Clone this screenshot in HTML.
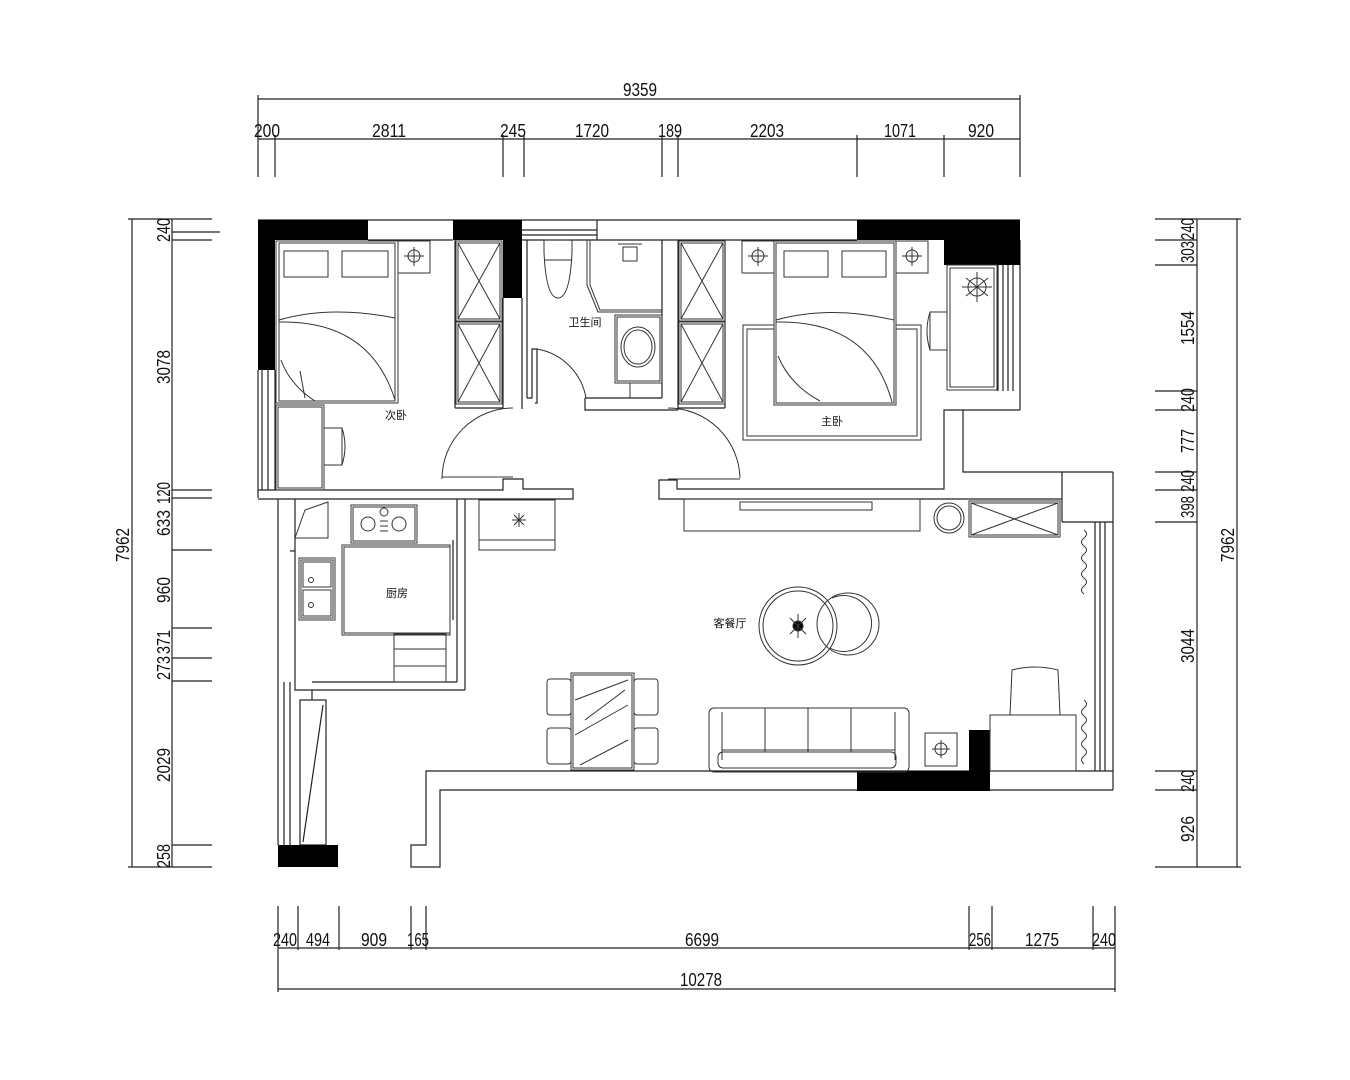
<!DOCTYPE html>
<html><head><meta charset="utf-8"><style>
html,body{margin:0;padding:0;background:#fff;width:1350px;height:1080px;overflow:hidden}
svg{display:block}
text{font-family:"Liberation Sans","Noto Sans CJK SC",sans-serif;fill:#111}
.l{stroke:#222;stroke-width:1.2;fill:none}
.t{stroke:#333;stroke-width:1;fill:none}
.f{fill:#000;stroke:none}
</style></head><body>
<svg width="1350" height="1080" viewBox="0 0 1350 1080" xmlns="http://www.w3.org/2000/svg">
<!-- TOP DIMENSIONS -->
<g class="l">
<line x1="258" y1="99" x2="1020" y2="99"/>
<line x1="258" y1="95" x2="258" y2="177"/><line x1="1020" y1="95" x2="1020" y2="177"/>
<line x1="258" y1="139" x2="1020" y2="139"/>
<line x1="275" y1="135" x2="275" y2="177"/><line x1="503" y1="135" x2="503" y2="177"/>
<line x1="524" y1="135" x2="524" y2="177"/><line x1="662" y1="135" x2="662" y2="177"/>
<line x1="678" y1="135" x2="678" y2="177"/><line x1="857" y1="135" x2="857" y2="177"/>
<line x1="944" y1="135" x2="944" y2="177"/>
</g>
<g text-anchor="middle" style="font-size:18px" lengthAdjust="spacingAndGlyphs">
<text x="640" y="96" textLength="34" lengthAdjust="spacingAndGlyphs">9359</text>
<text x="267" y="137" textLength="26" lengthAdjust="spacingAndGlyphs">200</text>
<text x="389" y="137" textLength="34" lengthAdjust="spacingAndGlyphs">2811</text>
<text x="513" y="137" textLength="26" lengthAdjust="spacingAndGlyphs">245</text>
<text x="592" y="137" textLength="34" lengthAdjust="spacingAndGlyphs">1720</text>
<text x="670" y="137" textLength="24" lengthAdjust="spacingAndGlyphs">189</text>
<text x="767" y="137" textLength="34" lengthAdjust="spacingAndGlyphs">2203</text>
<text x="900" y="137" textLength="32" lengthAdjust="spacingAndGlyphs">1071</text>
<text x="981" y="137" textLength="26" lengthAdjust="spacingAndGlyphs">920</text>
</g>
<!-- LEFT DIMENSIONS -->
<g class="l">
<line x1="132" y1="219" x2="132" y2="867"/>
<line x1="128" y1="219" x2="212" y2="219"/><line x1="128" y1="867" x2="212" y2="867"/>
<line x1="172" y1="219" x2="172" y2="867"/>
<line x1="172" y1="232" x2="220" y2="232"/><line x1="172" y1="240" x2="212" y2="240"/>
<line x1="172" y1="490" x2="212" y2="490"/><line x1="172" y1="498" x2="212" y2="498"/>
<line x1="172" y1="550" x2="212" y2="550"/><line x1="172" y1="628" x2="212" y2="628"/>
<line x1="172" y1="658" x2="212" y2="658"/><line x1="172" y1="681" x2="212" y2="681"/>
<line x1="172" y1="845" x2="212" y2="845"/>
</g>
<g text-anchor="middle" style="font-size:18px">
<text transform="translate(170,230) rotate(-90)" textLength="24" lengthAdjust="spacingAndGlyphs">240</text>
<text transform="translate(170,367) rotate(-90)" textLength="34" lengthAdjust="spacingAndGlyphs">3078</text>
<text transform="translate(170,493) rotate(-90)" textLength="22" lengthAdjust="spacingAndGlyphs">120</text>
<text transform="translate(170,523) rotate(-90)" textLength="26" lengthAdjust="spacingAndGlyphs">633</text>
<text transform="translate(170,590) rotate(-90)" textLength="26" lengthAdjust="spacingAndGlyphs">960</text>
<text transform="translate(170,642) rotate(-90)" textLength="24" lengthAdjust="spacingAndGlyphs">371</text>
<text transform="translate(170,668) rotate(-90)" textLength="24" lengthAdjust="spacingAndGlyphs">273</text>
<text transform="translate(170,765) rotate(-90)" textLength="34" lengthAdjust="spacingAndGlyphs">2029</text>
<text transform="translate(170,856) rotate(-90)" textLength="24" lengthAdjust="spacingAndGlyphs">258</text>
<text transform="translate(129,545) rotate(-90)" textLength="34" lengthAdjust="spacingAndGlyphs">7962</text>
</g>
<!-- RIGHT DIMENSIONS -->
<g class="l">
<line x1="1237" y1="219" x2="1237" y2="867"/>
<line x1="1197" y1="219" x2="1197" y2="867"/>
<line x1="1155" y1="219" x2="1241" y2="219"/><line x1="1155" y1="867" x2="1241" y2="867"/>
<line x1="1155" y1="240" x2="1197" y2="240"/><line x1="1155" y1="265" x2="1197" y2="265"/>
<line x1="1155" y1="391" x2="1197" y2="391"/><line x1="1155" y1="410" x2="1197" y2="410"/>
<line x1="1155" y1="472" x2="1197" y2="472"/><line x1="1155" y1="490" x2="1197" y2="490"/>
<line x1="1155" y1="522" x2="1197" y2="522"/><line x1="1155" y1="771" x2="1197" y2="771"/>
<line x1="1155" y1="790" x2="1197" y2="790"/>
</g>
<g text-anchor="middle" style="font-size:18px">
<text transform="translate(1194,229) rotate(-90)" textLength="22" lengthAdjust="spacingAndGlyphs">240</text>
<text transform="translate(1194,252) rotate(-90)" textLength="22" lengthAdjust="spacingAndGlyphs">303</text>
<text transform="translate(1194,328) rotate(-90)" textLength="34" lengthAdjust="spacingAndGlyphs">1554</text>
<text transform="translate(1194,400) rotate(-90)" textLength="24" lengthAdjust="spacingAndGlyphs">240</text>
<text transform="translate(1194,441) rotate(-90)" textLength="24" lengthAdjust="spacingAndGlyphs">777</text>
<text transform="translate(1194,481) rotate(-90)" textLength="22" lengthAdjust="spacingAndGlyphs">240</text>
<text transform="translate(1194,507) rotate(-90)" textLength="22" lengthAdjust="spacingAndGlyphs">398</text>
<text transform="translate(1194,646) rotate(-90)" textLength="34" lengthAdjust="spacingAndGlyphs">3044</text>
<text transform="translate(1194,781) rotate(-90)" textLength="22" lengthAdjust="spacingAndGlyphs">240</text>
<text transform="translate(1194,829) rotate(-90)" textLength="26" lengthAdjust="spacingAndGlyphs">926</text>
<text transform="translate(1234,545) rotate(-90)" textLength="34" lengthAdjust="spacingAndGlyphs">7962</text>
</g>
<!-- BOTTOM DIMENSIONS -->
<g class="l">
<line x1="278" y1="948" x2="1115" y2="948"/>
<line x1="278" y1="989" x2="1115" y2="989"/>
<line x1="278" y1="906" x2="278" y2="992"/><line x1="1115" y1="906" x2="1115" y2="992"/>
<line x1="298" y1="906" x2="298" y2="950"/><line x1="339" y1="906" x2="339" y2="950"/>
<line x1="411" y1="906" x2="411" y2="950"/><line x1="426" y1="906" x2="426" y2="950"/>
<line x1="969" y1="906" x2="969" y2="950"/><line x1="992" y1="906" x2="992" y2="950"/>
<line x1="1093" y1="906" x2="1093" y2="950"/>
</g>
<g text-anchor="middle" style="font-size:18px">
<text x="285" y="946" textLength="24" lengthAdjust="spacingAndGlyphs">240</text>
<text x="318" y="946" textLength="24" lengthAdjust="spacingAndGlyphs">494</text>
<text x="374" y="946" textLength="26" lengthAdjust="spacingAndGlyphs">909</text>
<text x="418" y="946" textLength="22" lengthAdjust="spacingAndGlyphs">165</text>
<text x="702" y="946" textLength="34" lengthAdjust="spacingAndGlyphs">6699</text>
<text x="980" y="946" textLength="22" lengthAdjust="spacingAndGlyphs">256</text>
<text x="1042" y="946" textLength="34" lengthAdjust="spacingAndGlyphs">1275</text>
<text x="1104" y="946" textLength="24" lengthAdjust="spacingAndGlyphs">240</text>
<text x="701" y="986" textLength="42" lengthAdjust="spacingAndGlyphs">10278</text>
</g>

<!-- WALLS -->
<g class="l">
<line x1="258" y1="220" x2="1020" y2="220"/>
<line x1="368" y1="240" x2="453" y2="240"/>
<line x1="522" y1="240" x2="857" y2="240"/>
<line x1="522" y1="230" x2="597" y2="230"/><line x1="522" y1="235" x2="597" y2="235"/><line x1="597" y1="220" x2="597" y2="240"/>
<line x1="258" y1="370" x2="258" y2="498"/>
<line x1="262" y1="370" x2="262" y2="490"/><line x1="268" y1="370" x2="268" y2="490"/>
<line x1="275" y1="370" x2="275" y2="490"/>
<polyline points="258,490 503,490 503,479 523,479 523,489 573,489 573,499 258,499"/>
<polyline points="1113,472 963,472 963,410 944,410 944,489 677,489 677,480 659,480 659,499 1062,499"/>
<line x1="1020" y1="240" x2="1020" y2="410"/><line x1="1020" y1="410" x2="963" y2="410"/>
<line x1="1062" y1="472" x2="1062" y2="522"/><line x1="1062" y1="522" x2="1113" y2="522"/>
<line x1="1113" y1="472" x2="1113" y2="790"/>
<line x1="1095" y1="522" x2="1095" y2="771"/><line x1="1100" y1="522" x2="1100" y2="771"/><line x1="1105" y1="522" x2="1105" y2="771"/>
<line x1="998" y1="265" x2="998" y2="391"/><line x1="1003" y1="265" x2="1003" y2="391"/><line x1="1008" y1="265" x2="1008" y2="391"/><line x1="1013" y1="265" x2="1013" y2="391"/>
<line x1="522" y1="298" x2="522" y2="409"/>
<line x1="527" y1="240" x2="527" y2="398"/>
<polyline points="527,398 532,398 532,349 537,349 537,403 535,403"/>
<polyline points="585,398 585,410 678,410"/>
<line x1="585" y1="398" x2="662" y2="398"/>
<line x1="662" y1="240" x2="662" y2="398"/><line x1="678" y1="240" x2="678" y2="410"/>
<line x1="455" y1="240" x2="455" y2="408"/><line x1="503" y1="298" x2="503" y2="408"/>
<line x1="455" y1="408" x2="503" y2="408"/>
<line x1="725" y1="240" x2="725" y2="408"/><line x1="678" y1="408" x2="725" y2="408"/>
<line x1="278" y1="499" x2="278" y2="845"/>
<line x1="295" y1="499" x2="295" y2="682"/>
<line x1="295" y1="551" x2="290" y2="551"/>
<polyline points="295,682 295,690 312,690 312,700"/>
<line x1="312" y1="690" x2="465" y2="690"/><line x1="312" y1="682" x2="457" y2="682"/>
<line x1="457" y1="499" x2="457" y2="682"/><line x1="465" y1="499" x2="465" y2="690"/>
<line x1="453" y1="540" x2="453" y2="620"/>
<line x1="284" y1="682" x2="284" y2="845"/><line x1="290" y1="682" x2="290" y2="845"/>
<rect x="300" y="700" width="26" height="145"/>
<line x1="323" y1="705" x2="303" y2="842"/>
<polyline points="1113,790 440,790 440,867 411,867 411,845 426,845 426,771 1113,771"/>
</g>
<rect class="f" x="258" y="220" width="110" height="20"/>
<rect class="f" x="258" y="220" width="17" height="150"/>
<rect class="f" x="453" y="220" width="69" height="20"/>
<rect class="f" x="503" y="220" width="19" height="78"/>
<rect class="f" x="857" y="220" width="163" height="20"/>
<rect class="f" x="944" y="220" width="76" height="45"/>
<rect class="f" x="278" y="845" width="60" height="22"/>
<rect class="f" x="857" y="771" width="133" height="20"/>
<rect class="f" x="969" y="730" width="21" height="61"/>

<g class="t">
<path d="M442,479 A71,71 0 0 1 513,408"/><line x1="442" y1="477" x2="513" y2="477"/>
<path d="M537,349 A60,60 0 0 1 586,398"/>
<path d="M668,408 A72,72 0 0 1 740,478"/><line x1="668" y1="479" x2="740" y2="479"/>
</g>

<g class="t">
<rect x="456" y="241" width="46" height="80"/><rect x="458" y="243" width="42" height="76"/>
<line x1="458" y1="243" x2="500" y2="319"/><line x1="500" y1="243" x2="458" y2="319"/>
<rect x="456" y="322" width="46" height="82"/><rect x="458" y="324" width="42" height="78"/>
<line x1="458" y1="324" x2="500" y2="402"/><line x1="500" y1="324" x2="458" y2="402"/>
<rect x="679" y="241" width="46" height="80"/><rect x="681" y="243" width="42" height="76"/>
<line x1="681" y1="243" x2="723" y2="319"/><line x1="723" y1="243" x2="681" y2="319"/>
<rect x="679" y="322" width="46" height="82"/><rect x="681" y="324" width="42" height="78"/>
<line x1="681" y1="324" x2="723" y2="402"/><line x1="723" y1="324" x2="681" y2="402"/>
</g>

<g class="t">
<rect x="276" y="241" width="122" height="162"/><rect x="279" y="243" width="116" height="158"/>
<path d="M284,251 L328,251 L328,277 L284,277 Z"/><path d="M342,251 L388,251 L388,277 L342,277 Z"/>
<path d="M279,320 Q330,305 395,318"/><path d="M279,322 Q370,320 395,400"/>
<path d="M281,360 Q290,385 315,401"/><path d="M300,371 L305,398"/>
<rect x="398" y="241" width="32" height="32"/><circle cx="414" cy="256" r="6"/>
<line x1="414" y1="247" x2="414" y2="266"/><line x1="404" y1="256" x2="424" y2="256"/>
<rect x="276" y="405" width="48" height="85"/><rect x="278" y="407" width="44" height="81"/>
<rect x="324" y="428" width="18" height="37"/><path d="M342,428 Q348,446 342,465"/>
</g>
<g class="t">
<rect x="743" y="325" width="178" height="115"/><rect x="747" y="329" width="170" height="107"/>
<rect x="774" y="241" width="122" height="164" fill="#fff"/><rect x="776" y="243" width="118" height="160"/>
<path d="M784,251 L828,251 L828,277 L784,277 Z"/><path d="M842,251 L886,251 L886,277 L842,277 Z"/>
<path d="M776,320 Q830,305 894,320"/><path d="M776,322 Q870,320 892,402"/>
<path d="M778,356 Q790,385 820,401"/>
<rect x="742" y="241" width="32" height="32"/><circle cx="758" cy="256" r="6"/>
<line x1="758" y1="247" x2="758" y2="266"/><line x1="748" y1="256" x2="768" y2="256"/>
<rect x="896" y="241" width="32" height="32"/><circle cx="912" cy="256" r="6"/>
<line x1="912" y1="247" x2="912" y2="266"/><line x1="902" y1="256" x2="922" y2="256"/>
<rect x="947" y="265" width="50" height="125"/><rect x="950" y="268" width="44" height="119"/>
<rect x="930" y="312" width="17" height="38"/><path d="M930,312 Q924,331 930,350"/>
<circle cx="977" cy="287" r="9"/><path d="M966,278 L988,296 M988,278 L966,296 M977,272 L977,302 M962,287 L992,287"/>
</g>
<g class="t">
<path d="M544,240 L572,240 L572,252 Q570,298 558,298 Q546,298 544,252 Z"/><line x1="544" y1="260" x2="572" y2="260"/>
<polyline points="587,240 587,285 598,312 662,312"/><polyline points="590,240 590,285 600,310 662,310"/>
<rect x="623" y="247" width="14" height="14"/><line x1="618" y1="244" x2="642" y2="244"/>
<rect x="615" y="315" width="47" height="68"/><rect x="617" y="317" width="43" height="64"/>
<ellipse cx="638" cy="347" rx="17" ry="20"/><ellipse cx="638" cy="347" rx="14" ry="17"/>
<line x1="630" y1="383" x2="630" y2="398"/>
</g>
<g class="t">
<rect x="351" y="505" width="66" height="38"/><rect x="353" y="507" width="62" height="34"/>
<circle cx="368" cy="524" r="7"/><circle cx="399" cy="524" r="7"/><circle cx="384" cy="512" r="4"/>
<line x1="380" y1="521" x2="388" y2="521"/><line x1="380" y1="526" x2="388" y2="526"/><line x1="380" y1="531" x2="388" y2="531"/>
<rect x="342" y="545" width="108" height="90"/><rect x="344" y="547" width="106" height="86"/>
<rect x="299" y="558" width="36" height="62"/><rect x="301" y="560" width="32" height="58"/>
<rect x="303" y="562" width="28" height="25"/><rect x="303" y="590" width="28" height="26"/>
<circle cx="311" cy="580" r="2.5"/><circle cx="311" cy="605" r="2.5"/>
<polyline points="295,538 305,510 328,502 328,538 295,538"/>
<rect x="394" y="634" width="52" height="48"/><line x1="394" y1="649" x2="446" y2="649"/><line x1="394" y1="666" x2="446" y2="666"/>
<rect x="479" y="500" width="76" height="40"/><rect x="479" y="540" width="76" height="10"/>
<path d="M512,520 L526,520 M519,513 L519,527 M514,515 L524,525 M524,515 L514,525"/>
</g>
<g class="t">
<rect x="684" y="499" width="236" height="32"/>
<rect x="740" y="502" width="132" height="8"/>
<circle cx="949" cy="518" r="15"/><circle cx="949" cy="518" r="12"/>
<rect x="969" y="501" width="91" height="36"/><rect x="971" y="503" width="87" height="32"/>
<line x1="971" y1="503" x2="1058" y2="535"/><line x1="1058" y1="503" x2="971" y2="535"/>
<circle cx="798" cy="626" r="39"/><circle cx="798" cy="626" r="35"/>
<circle cx="848" cy="624" r="31"/><path d="M832,598 A28,28 0 1 1 830,648"/>
<circle cx="798" cy="626" r="5" fill="#000"/>
<path d="M790,618 L806,634 M806,618 L790,634 M798,614 L798,638"/>
<rect x="709" y="708" width="200" height="64" rx="5"/>
<line x1="722" y1="712" x2="722" y2="760"/><line x1="895" y1="712" x2="895" y2="760"/>
<line x1="765" y1="708" x2="765" y2="752"/><line x1="808" y1="708" x2="808" y2="752"/><line x1="851" y1="708" x2="851" y2="752"/>
<line x1="722" y1="750" x2="895" y2="750"/><rect x="718" y="752" width="178" height="16" rx="5"/>
<rect x="925" y="733" width="32" height="33"/><circle cx="941" cy="749" r="6"/>
<line x1="941" y1="740" x2="941" y2="758"/><line x1="932" y1="749" x2="950" y2="749"/>
<rect x="990" y="715" width="86" height="56"/>
<path d="M1012,670 Q1035,664 1058,670 L1060,715 L1010,715 Z"/>
<path d="M1084,530 q5,4 0,8 q-5,4 0,8 q5,4 0,8 q-5,4 0,8 q5,4 0,8 q-5,4 0,8 q5,4 0,8 q-5,4 0,8"/>
<path d="M1084,700 q5,4 0,8 q-5,4 0,8 q5,4 0,8 q-5,4 0,8 q5,4 0,8 q-5,4 0,8 q5,4 0,8 q-5,4 0,8"/>
<rect x="571" y="673" width="63" height="97"/><rect x="573" y="675" width="59" height="93"/>
<path d="M575,700 L628,680 M575,735 L628,705 M580,765 L628,740 M585,720 L625,690" />
<rect x="547" y="679" width="24" height="36" rx="3"/><rect x="547" y="728" width="24" height="36" rx="3"/>
<rect x="634" y="679" width="24" height="36" rx="3"/><rect x="634" y="728" width="24" height="36" rx="3"/>
</g>
<g style="font-size:11px" text-anchor="middle">
<text x="396" y="419">次卧</text>
<text x="585" y="326">卫生间</text>
<text x="832" y="425">主卧</text>
<text x="397" y="597">厨房</text>
<text x="730" y="627">客餐厅</text>
</g>
</svg>
</body></html>
